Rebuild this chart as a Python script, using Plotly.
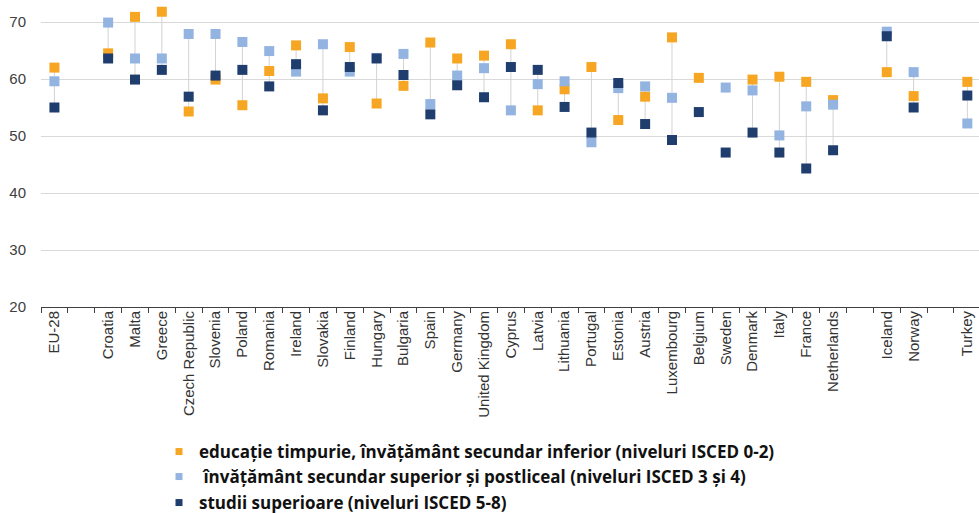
import plotly.graph_objects as go

categories = ["EU-28", " ", "Croatia", "Malta", "Greece", "Czech Republic", "Slovenia",
              "Poland", "Romania", "Ireland", "Slovakia", "Finland", "Hungary", "Bulgaria",
              "Spain", "Germany", "United Kingdom", "Cyprus", "Latvia", "Lithuania",
              "Portugal", "Estonia", "Austria", "Luxembourg", "Belgium", "Sweden",
              "Denmark", "Italy", "France", "Netherlands", "  ", "Iceland", "Norway",
              "   ", "Turkey"]

low_edu = [62.0, None, 64.5, 70.9, 71.8, 54.3, 59.9, 55.4, 61.4, 65.9, 56.6, 65.6, 55.7, 58.8,
           66.4, 63.6, 64.1, 66.1, 54.5, 58.2, 62.1, 52.8, 56.9, 67.3, 60.2, None,
           59.9, 60.4, 59.5, 56.3, None, 61.2, 57.0, None, 59.5]
mid_edu = [59.6, None, 69.9, 63.6, 63.6, 67.9, 67.9, 66.5, 64.9, 61.3, 66.1, 61.3, 63.7, 64.4,
           55.6, 60.6, 61.9, 54.5, 59.1, 59.6, 48.9, 58.4, 58.7, 56.7, None, 58.5,
           58.0, 50.1, 55.2, 55.5, None, 68.3, 61.2, None, 52.2]
high_edu = [55.0, None, 63.6, 59.9, 61.6, 56.9, 60.6, 61.6, 58.7, 62.6, 54.5, 62.1, 63.6, 60.7,
            53.8, 58.9, 56.8, 62.1, 61.6, 55.1, 50.6, 59.3, 52.1, 49.3, 54.2, 47.1,
            50.6, 47.1, 44.3, 47.5, None, 67.5, 55.0, None, 57.1]

series_names = [
    "educație timpurie, învățământ secundar inferior (niveluri ISCED 0-2)",
    " învățământ secundar superior și postliceal (niveluri ISCED 3 și 4)",
    "studii superioare (niveluri ISCED 5-8)",
]
colors = ["#F6A623", "#93B3E0", "#1F3D6D"]

W, H = 979, 513
L, T = 41, 0
plot_h = 307
slot = 26.85

fig = go.Figure()

# high-low connector lines
lx, ly = [], []
for c, a, b, d in zip(categories, low_edu, mid_edu, high_edu):
    if a is None or b is None or d is None:
        continue
    vals = [a, b, d]
    lx += [c, c, None]
    ly += [min(vals), max(vals), None]
fig.add_trace(go.Scatter(x=lx, y=ly, mode="lines", line=dict(color="#D3D3D3", width=1),
                         showlegend=False, hoverinfo="skip"))

for vals, name, col in zip([low_edu, mid_edu, high_edu], series_names, colors):
    fig.add_trace(go.Scatter(x=categories, y=vals, mode="markers", name=name,
                             marker=dict(symbol="square", size=10, color=col, line=dict(width=0)),
                             showlegend=False))

legend_rows = [452, 477, 503]
legend_keys = ["legend", "legend2", "legend3"]
for name, col, key in zip(series_names, colors, legend_keys):
    fig.add_trace(go.Scatter(x=[None], y=[None], mode="markers", name=name,
                             marker=dict(symbol="square", size=7, color=col),
                             showlegend=True, legend=key))

legend_common = dict(
    xref="container", yref="container", xanchor="left", yanchor="middle",
    bgcolor="rgba(0,0,0,0)", borderwidth=0,
    font=dict(family="Open Sans", size=17, color="#111111", weight="bold"),
)
layout_legends = {}
for key, row in zip(legend_keys, legend_rows):
    layout_legends[key] = dict(legend_common, x=159 / W, y=1 - row / H)

ymax = 20 + plot_h / 5.7
fig.update_layout(
    width=W, height=H,
    margin=dict(l=L, r=0, t=T, b=H - plot_h - T, autoexpand=False),
    paper_bgcolor="white", plot_bgcolor="white",
    showlegend=True,
    xaxis=dict(
        type="category", categoryorder="array", categoryarray=categories,
        range=[-0.5, -0.5 + (W - L) / slot],
        tickson="boundaries", ticks="outside", ticklen=5, tickcolor="#404040",
        showline=True, linecolor="#404040", linewidth=1,
        showgrid=False, tickangle=-90, dtick=1,
        ticklabeloverflow="allow", ticklabelstandoff=-3,
        tickfont=dict(family="Liberation Sans", size=15, color="#333333"),
        automargin=False,
    ),
    yaxis=dict(
        range=[20, ymax], tickvals=[20, 30, 40, 50, 60, 70],
        showgrid=True, gridcolor="#D9D9D9", gridwidth=1,
        zeroline=False, showline=False, ticks="",
        ticklabelstandoff=14,
        tickfont=dict(family="Liberation Sans", size=15, color="#404040"),
        automargin=False,
    ),
    **layout_legends,
)

fig.write_html("out.html", config={"displayModeBar": False},
               post_script="document.body.style.margin='0';")
